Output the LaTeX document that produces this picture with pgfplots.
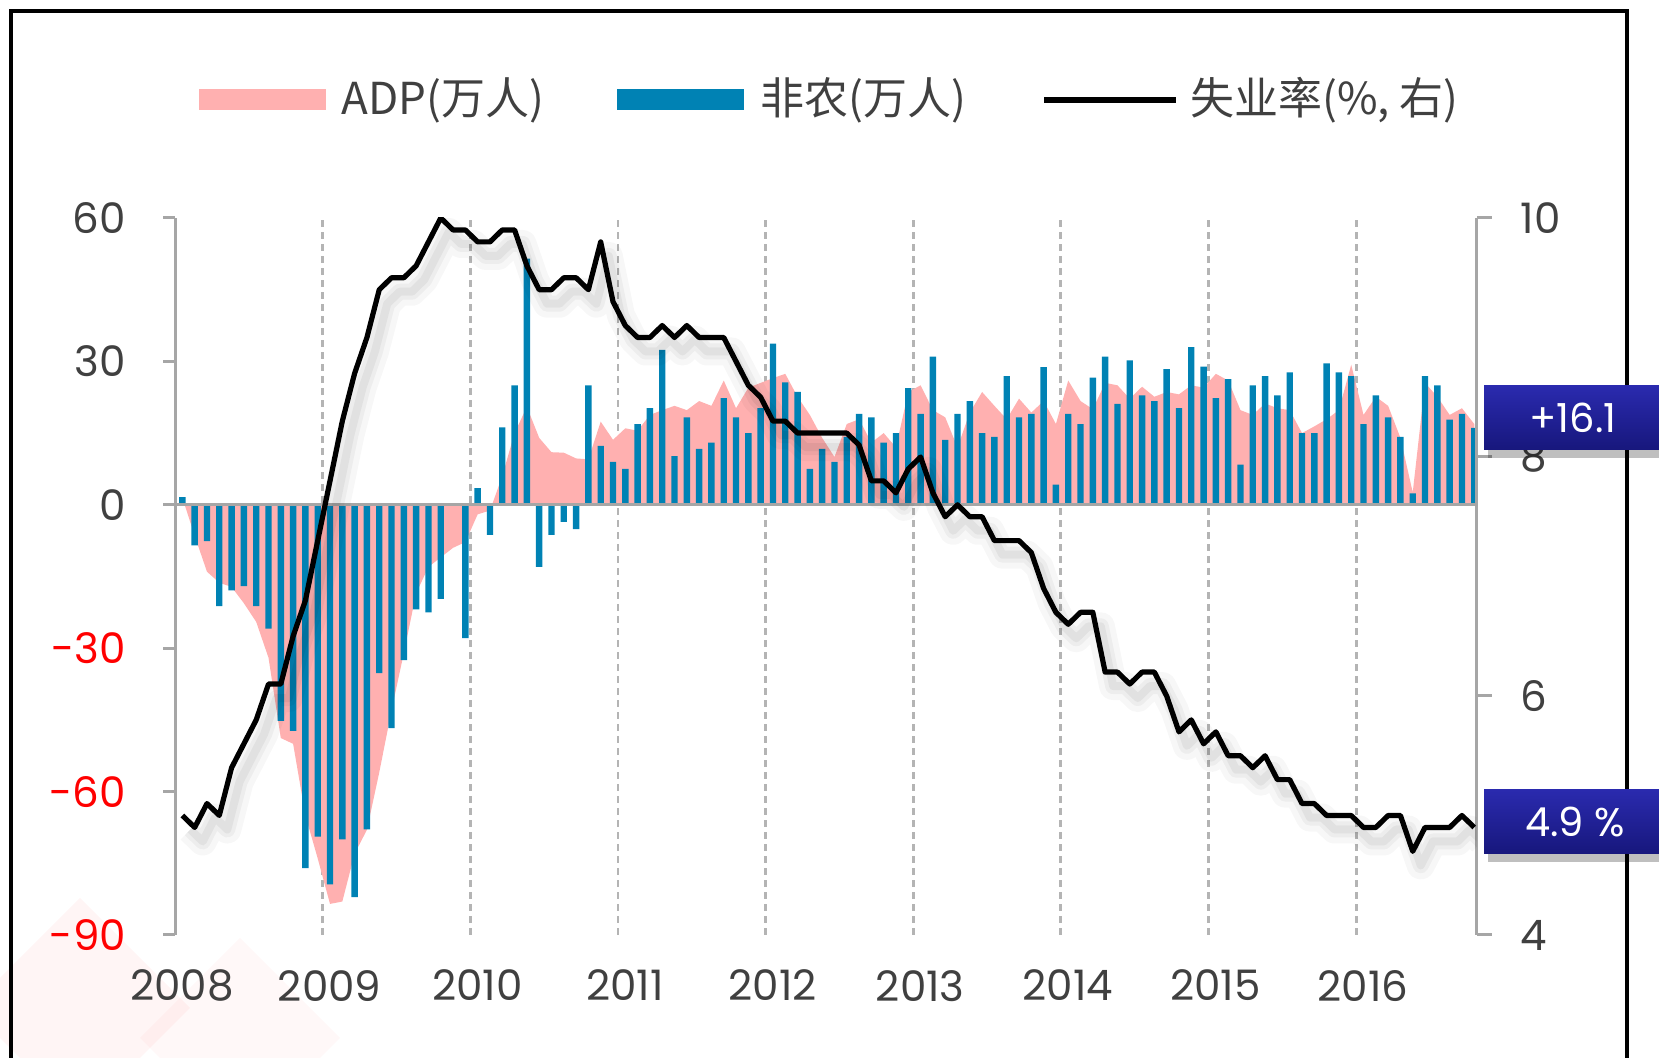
\documentclass[border=0pt]{standalone}
\usepackage{pgfplots}
\pgfplotsset{compat=1.18}
\usepackage{pgfplotstable}
\usepackage{fontspec}
\setmainfont{Poppins}
\newfontfamily\cjk{Noto Sans CJK SC}

\definecolor{adp}{HTML}{FFB0B0}
\definecolor{nfp}{HTML}{0082B4}
\definecolor{axgray}{HTML}{A6A6A6}
\definecolor{gridgray}{HTML}{B4B4B4}
\definecolor{txt}{HTML}{404040}
\definecolor{navytop}{HTML}{2A2AAE}
\definecolor{navybot}{HTML}{17177C}

% m = month index from Jan 2008; nfp, adp in 10k persons; ur in %
\pgfplotstableread{
m   nfp    adp    ur
0   1.6    1.5    5.0
1   -8.5   -6.5   4.9
2   -7.6   -14.0  5.1
3   -21.2  -16.3  5.0
4   -17.9  -17.2  5.4
5   -17.0  -20.6  5.6
6   -21.2  -24.5  5.8
7   -25.9  -32.0  6.1
8   -45.2  -48.8  6.1
9   -47.3  -50.0  6.5
10  -76.0  -65.0  6.8
11  -69.4  -74.0  7.3
12  -79.4  -83.5  7.8
13  -70.0  -83.0  8.3
14  -82.1  -73.0  8.7
15  -67.9  -68.0  9.0
16  -35.2  -56.0  9.4
17  -46.7  -43.0  9.5
18  -32.5  -31.0  9.5
19  -21.9  -18.5  9.6
20  -22.5  -13.0  9.8
21  -19.7  -11.0  10.0
22  0.3    -9.0   9.9
23  -27.9  -7.8   9.9
24  3.5    -2.0   9.8
25  -6.3   -1.2   9.8
26  16.2   6.0    9.9
27  25.0   15.0   9.9
28  51.5   20.5   9.6
29  -13.0  14.0   9.4
30  -6.3   11.0   9.4
31  -3.6   10.9   9.5
32  -5.1   9.7    9.5
33  25.0   9.5    9.4
34  12.3   17.4   9.8
35  9.0    13.6   9.3
36  7.5    16.0   9.1
37  16.9   15.5   9.0
38  20.2   18.8   9.0
39  32.4   19.8   9.1
40  10.2   20.7   9.0
41  18.3   19.8   9.1
42  11.7   21.7   9.0
43  13.0   20.7   9.0
44  22.3   26.0   9.0
45  18.3   20.2   8.8
46  15.0   24.5   8.6
47  20.2   25.5   8.5
48  33.7   26.5   8.3
49  25.6   27.4   8.3
50  23.6   22.6   8.2
51  7.5    18.8   8.2
52  11.7   14.0   8.2
53  9.0    10.0   8.2
54  14.2   16.9   8.2
55  19.0   17.9   8.1
56  18.3   13.0   7.8
57  13.0   15.0   7.8
58  15.0   12.0   7.7
59  24.4   23.6   7.9
60  19.0   25.0   8.0
61  31.0   19.8   7.7
62  13.6   18.3   7.5
63  19.0   12.0   7.6
64  21.7   19.3   7.5
65  15.0   23.6   7.5
66  14.2   20.7   7.3
67  26.9   17.9   7.3
68  18.3   22.2   7.3
69  19.0   19.3   7.2
70  28.8   21.7   6.9
71  4.2    16.9   6.7
72  19.0   26.0   6.6
73  16.9   21.7   6.7
74  26.6   20.0   6.7
75  31.0   25.5   6.2
76  21.1   25.0   6.2
77  30.2   22.2   6.1
78  22.9   24.7   6.2
79  21.7   22.6   6.2
80  28.4   23.6   6.0
81  20.2   23.1   5.7
82  33.0   25.0   5.8
83  28.9   24.5   5.6
84  22.3   27.4   5.7
85  26.3   26.0   5.5
86  8.4    19.8   5.5
87  25.0   18.8   5.4
88  26.9   21.2   5.5
89  22.9   20.2   5.3
90  27.7   19.8   5.3
91  15.0   15.0   5.1
92  15.0   16.4   5.1
93  29.6   17.9   5.0
94  27.7   19.8   5.0
95  26.9   29.3   5.0
96  16.9   18.8   4.9
97  22.9   22.6   4.9
98  18.3   20.7   5.0
99  14.2   14.0   5.0
100 2.4    2.6    4.7
101 26.9   25.5   4.9
102 25.0   22.6   4.9
103 17.8   18.8   4.9
104 19.0   20.2   5.0
105 16.1   16.9   4.9
}\data

\pgfplotsset{
  base/.style={
    scale only axis,
    width=650.85pt, height=358.5pt,
    at={(87.5pt,61.5pt)}, anchor=south west,
    xmin=0, xmax=105.8,
    axis line style={-},
    tick align=outside,
    ticklabel style={font=\fontsize{21}{25}\selectfont, text=txt},
    /pgf/number format/assume math mode=true,
  }
}

\begin{document}
\begin{tikzpicture}
\useasboundingbox (0,0) rectangle (829.5pt,529pt);

% faint logo watermark, bottom left
\begin{scope}[opacity=0.07]
  \fill[red!55] (40pt,-30pt) -- (95pt,25pt) -- (40pt,80pt) -- (-15pt,25pt) -- cycle;
  \fill[red!40] (120pt,-40pt) -- (170pt,10pt) -- (120pt,60pt) -- (70pt,10pt) -- cycle;
\end{scope}

% outer frame
\draw[line width=2.4pt] (5.5pt,-10pt) -- (5.5pt,523.5pt) -- (813.5pt,523.5pt) -- (813.5pt,-10pt);

\begin{axis}[base,
  ymin=-90, ymax=60,
  axis y line*=left, axis x line*=bottom,
  x axis line style={draw=none},
  y axis line style={axgray, line width=1.5pt},
  ytick={-90,-60,-30,0,30,60},
  yticklabels={\textcolor{red}{-90},\textcolor{red}{-60},\textcolor{red}{-30},0,30,60},
  ytick style={axgray, line width=1.5pt},
  major tick length=6pt,
  yticklabel style={xshift=-15pt},
  xtick={0,12,...,96},
  xticklabels={2008,2009,2010,2011,2012,2013,2014,2015,2016},
  xtick style={draw=none},
  xticklabel style={xshift=3.5pt, yshift=-8pt},
  xmajorgrids,
  major grid style={gridgray, line width=1.4pt, dash pattern=on 3.5pt off 2.5pt},
]
\addplot[fill=adp, draw=none] table[x expr=\thisrow{m}+0.6, y=adp] {\data} \closedcycle;
\addplot[ybar, bar width=0.52, bar shift=0pt, fill=nfp, draw=none]
  table[x expr=\thisrow{m}+0.6, y=nfp] {\data};
\draw[axgray, line width=1.5pt] (axis cs:0,0) -- (axis cs:105.8,0);
\end{axis}

\begin{axis}[base,
  ymin=4, ymax=10,
  axis y line*=right, axis x line=none,
  y axis line style={axgray, line width=1.5pt},
  ytick={4,6,8,10},
  ytick style={axgray, line width=1.5pt},
  major tick length=7.5pt,
  yticklabel style={xshift=11pt},
]
\addplot[draw=black, opacity=0.03, line width=14pt, line join=round, xshift=4pt, yshift=-7pt]
  table[x expr=\thisrow{m}+0.6, y=ur] {\data};
\addplot[draw=black, opacity=0.04, line width=8pt, line join=round, xshift=4pt, yshift=-7pt]
  table[x expr=\thisrow{m}+0.6, y=ur] {\data};
\addplot[draw=black, opacity=0.05, line width=4pt, line join=round, xshift=4pt, yshift=-7pt]
  table[x expr=\thisrow{m}+0.6, y=ur] {\data};
\addplot[draw=black, line width=2.6pt, line join=round]
  table[x expr=\thisrow{m}+0.6, y=ur] {\data};
\end{axis}

% legend
\fill[adp] (99.5pt,474pt) rectangle (163pt,484.5pt);
\node[anchor=west, inner sep=0pt, text=txt, font=\cjk\fontsize{22}{26}\selectfont] at (170.5pt,479pt) {ADP(万人)};
\fill[nfp] (308.5pt,474pt) rectangle (372pt,484.5pt);
\node[anchor=west, inner sep=0pt, text=txt, font=\cjk\fontsize{22}{26}\selectfont] at (380pt,479pt) {非农(万人)};
\draw[black, line width=2.6pt] (522pt,479pt) -- (588pt,479pt);
\node[anchor=west, inner sep=0pt, text=txt, font=\cjk\fontsize{22}{26}\selectfont] at (595pt,479pt) {失业率(\%, 右)};

% latest value tags
\fill[black, opacity=0.25] (744pt,300pt) rectangle (840pt,332pt);
\shade[top color=navytop, bottom color=navybot] (742pt,304pt) rectangle (840pt,336pt);
\node[text=white, font=\fontsize{20}{24}\selectfont] at (786.5pt,320pt) {+16.1};
\fill[black, opacity=0.25] (744pt,98pt) rectangle (840pt,130pt);
\shade[top color=navytop, bottom color=navybot] (742pt,102pt) rectangle (840pt,134pt);
\node[text=white, font=\fontsize{20}{24}\selectfont] at (787.5pt,118pt) {4.9 \%};
\end{tikzpicture}
\end{document}
